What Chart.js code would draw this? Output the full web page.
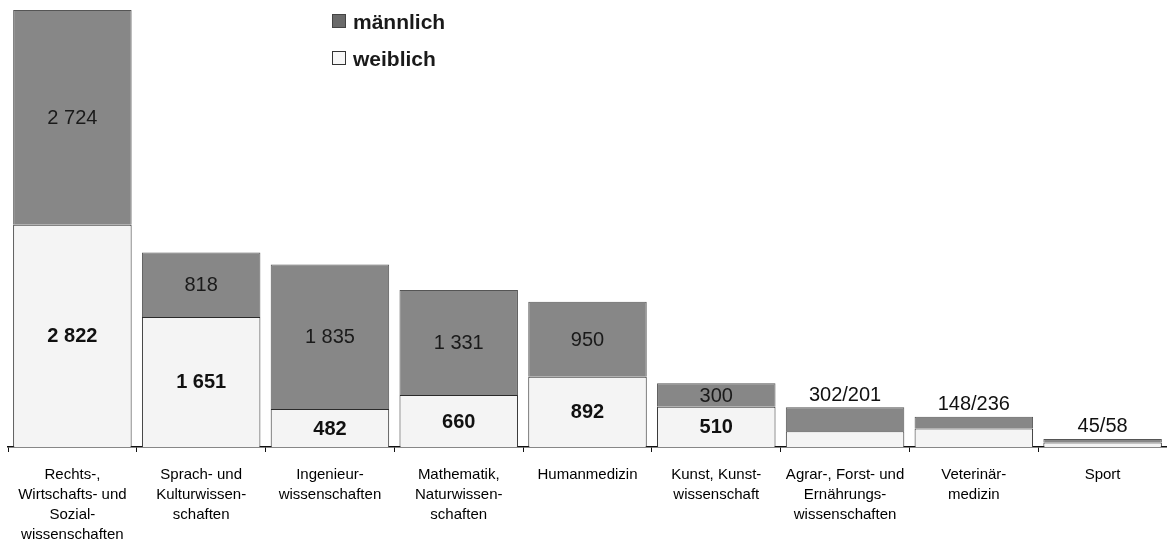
<!DOCTYPE html>
<html lang="de">
<head>
<meta charset="utf-8">
<title>Studierende nach Fächergruppen</title>
<script src="https://cdn.jsdelivr.net/npm/chart.js@4.4.1/dist/chart.umd.min.js"></script>
<style>
  html, body { margin: 0; padding: 0; background: #fff; }
  #wrap { position: relative; width: 1167px; height: 544px; }
  #legend {
    position: absolute; left: 332px; top: 3px;
    font-family: "Liberation Sans", Arial, sans-serif;
    font-weight: bold; font-size: 21px; color: #1a1a1a; line-height: 37px;
  }
  #legend .sw { display: inline-block; width: 12px; height: 12px; margin-right: 7px; vertical-align: 1px; }
</style>
</head>
<body>
<div id="wrap">
  <canvas id="chart"></canvas>
  <div id="legend">
    <div><span class="sw" style="background:#6a6a6a;border:1px solid #444"></span>männlich</div>
    <div><span class="sw" style="background:#f7f7f7;border:1px solid #333"></span>weiblich</div>
  </div>
</div>
<script>
// ---- data -----------------------------------------------------------
const categories = [
  ["Rechts-,", "Wirtschafts- und", "Sozial-", "wissenschaften"],
  ["Sprach- und", "Kulturwissen-", "schaften"],
  ["Ingenieur-", "wissenschaften"],
  ["Mathematik,", "Naturwissen-", "schaften"],
  ["Humanmedizin"],
  ["Kunst, Kunst-", "wissenschaft"],
  ["Agrar-, Forst- und", "Ernährungs-", "wissenschaften"],
  ["Veterinär-", "medizin"],
  ["Sport"],
];
const maennlich = [2724, 818, 1835, 1331, 950, 300, 302, 148, 45];
const weiblich = [2822, 1651, 482, 660, 892, 510, 201, 236, 58];

const totals = maennlich.map((m, i) => m + weiblich[i]);
const fmt = (n) => String(n).replace(/\B(?=(\d{3})+(?!\d))/g, " ");
const FONT = '"Liberation Sans", Arial, sans-serif';

// ---- value labels ---------------------------------------------------
const valueLabels = {
  id: "valueLabels",
  afterDatasetsDraw(chart) {
    const ctx = chart.ctx;
    const wMeta = chart.getDatasetMeta(0);
    const mMeta = chart.getDatasetMeta(1);
    ctx.save();
    ctx.textAlign = "center";
    wMeta.data.forEach((wBar, i) => {
      const mBar = mMeta.data[i];
      const totalPx = wBar.base - mBar.y;
      if (totalPx < 50) {
        // small bars: combined label above
        ctx.font = "20px " + FONT;
        ctx.fillStyle = "#111";
        ctx.textBaseline = "bottom";
        ctx.fillText(fmt(maennlich[i]) + "/" + fmt(weiblich[i]), mBar.x, mBar.y - 2);
        return;
      }
      ctx.textBaseline = "middle";
      ctx.font = "bold 20px " + FONT;
      ctx.fillStyle = "#111";
      ctx.fillText(fmt(weiblich[i]), wBar.x, (wBar.y + wBar.base) / 2 + 1);
      ctx.font = "20px " + FONT;
      ctx.fillStyle = "#1a1a1a";
      ctx.fillText(fmt(maennlich[i]), mBar.x, (mBar.y + mBar.base) / 2 + 1);
    });
    ctx.restore();
  },
};

// ---- chart ----------------------------------------------------------
new Chart(document.getElementById("chart"), {
  type: "bar",
  data: {
    labels: categories,
    datasets: [
      {
        label: "weiblich",
        data: weiblich,
        backgroundColor: "#f4f4f4",
        borderColor: "#2a2a2a",
        borderWidth: 1,
        barPercentage: 0.92,
        categoryPercentage: 1,
      },
      {
        label: "männlich",
        data: maennlich,
        backgroundColor: "#878787",
        borderColor: "#555",
        borderWidth: 1,
        barPercentage: 0.92,
        categoryPercentage: 1,
      },
    ],
  },
  options: {
    responsive: true,
    maintainAspectRatio: false,
    animation: false,
    layout: { padding: { left: 8, right: 0, top: 10, bottom: 0 } },
    plugins: { legend: { display: false }, tooltip: { enabled: false } },
    scales: {
      x: {
        stacked: true,
        afterFit: (scale) => { scale.height = 97; },
        border: { display: true, color: "#111", width: 1.5 },
        grid: {
          offset: true,
          drawOnChartArea: false,
          drawTicks: true,
          tickLength: 5,
          color: "#111",
        },
        ticks: {
          padding: 13,
          maxRotation: 0,
          autoSkip: false,
          color: "#000",
          font: { family: FONT, size: 15, lineHeight: 1.333 },
        },
      },
      y: {
        stacked: true,
        display: false,
        min: 0,
        max: Math.max(...totals),
      },
    },
  },
  plugins: [valueLabels],
});
</script>
</body>
</html>
